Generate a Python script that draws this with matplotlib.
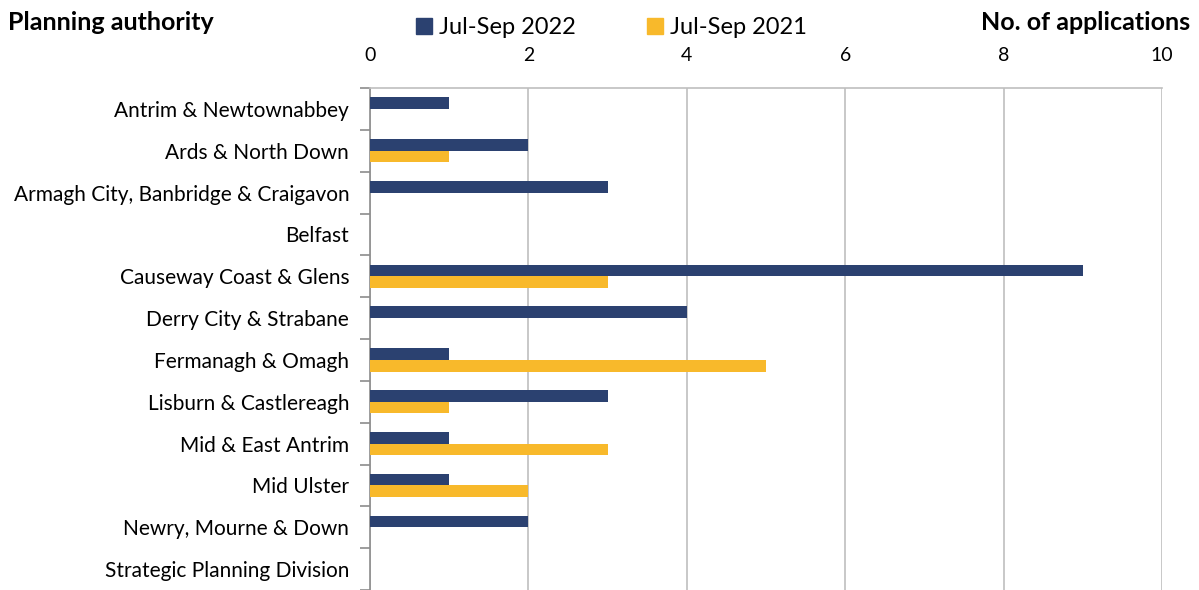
import matplotlib.pyplot as plt
from matplotlib.patches import Patch

plt.rcParams['font.family'] = ['Lato', 'DejaVu Sans']

authorities = [
    "Antrim & Newtownabbey",
    "Ards & North Down",
    "Armagh City, Banbridge & Craigavon",
    "Belfast",
    "Causeway Coast & Glens",
    "Derry City & Strabane",
    "Fermanagh & Omagh",
    "Lisburn & Castlereagh",
    "Mid & East Antrim",
    "Mid Ulster",
    "Newry, Mourne & Down",
    "Strategic Planning Division",
]
q3_2022 = [1, 2, 3, 0, 9, 4, 1, 3, 1, 1, 2, 0]
q3_2021 = [0, 1, 0, 0, 3, 0, 5, 1, 3, 2, 0, 0]

navy = "#2B4170"
yellow = "#F8B92B"
grey = "#BFBFBF"

fig = plt.figure(figsize=(11.99, 5.90), dpi=100)
ax = fig.add_axes([0.3086, 0.0, 0.6605, 0.8508])

ypos = list(range(len(authorities)))
h = 0.28
ax.barh([y - h / 2 for y in ypos], q3_2022, height=h, color=navy, zorder=3)
ax.barh([y + h / 2 for y in ypos], q3_2021, height=h, color=yellow, zorder=3)

ax.set_xlim(0, 10)
ax.set_ylim(len(authorities) - 0.5, -0.5)
ax.set_xticks(range(0, 11, 2))
ax.xaxis.tick_top()
ax.tick_params(axis='x', length=0, pad=17, labelsize=14)
ax.grid(axis='x', color=grey, linewidth=1.2, zorder=0)

# category labels at centres, tick marks at boundaries
ax.set_yticks(ypos)
ax.set_yticklabels(authorities, fontsize=15)
ax.tick_params(axis='y', which='major', length=0, pad=15)
ax.set_yticks([y + 0.5 for y in range(-1, len(authorities))], minor=True)
ax.tick_params(axis='y', which='minor', length=7, color="#8C8C8C", width=1.2)

for s in ['right', 'bottom']:
    ax.spines[s].set_visible(False)
ax.spines['left'].set_color("#8C8C8C")
ax.spines['left'].set_linewidth(1.2)
ax.spines['top'].set_color(grey)
ax.spines['top'].set_linewidth(1.2)

fig.text(0.007, 0.962, "Planning authority", fontsize=18, fontweight='bold',
         ha='left', va='center')
fig.text(0.993, 0.962, "No. of applications", fontsize=18, fontweight='bold',
         ha='right', va='center')

handles = [Patch(color=navy, label="Jul-Sep 2022"),
           Patch(color=yellow, label="Jul-Sep 2021")]
fig.legend(handles=handles, loc='center', bbox_to_anchor=(0.51, 0.953), ncol=2,
           frameon=False, fontsize=17, handlelength=0.7, handleheight=0.7,
           handletextpad=0.3, columnspacing=3.0)

fig.savefig("out.png", dpi=100)
